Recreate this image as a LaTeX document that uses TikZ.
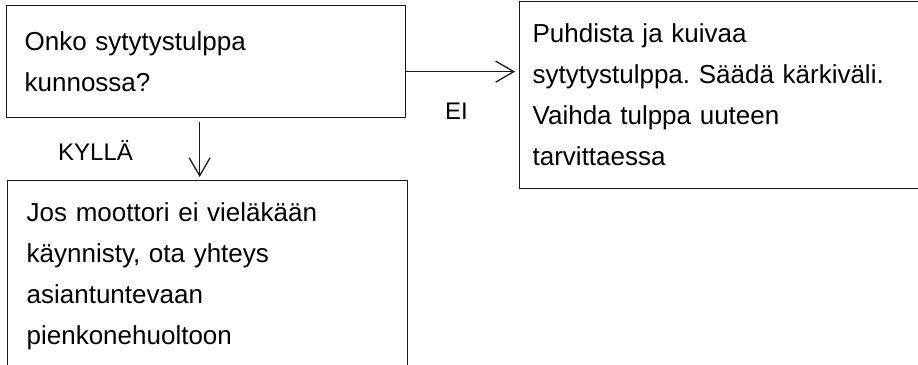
\documentclass[tikz,border=0pt]{standalone}
\usepackage{fontspec}
\setmainfont{Liberation Sans}
\usetikzlibrary{arrows.meta}
\frenchspacing
\begin{document}
\begin{tikzpicture}[x=1pt,y=-1pt,
  box/.style={draw=black!90,line width=1.3pt,rectangle,anchor=north west,
    align=left,inner ysep=0pt,
    font=\fontsize{26pt}{41pt}\selectfont},
  flow/.style={draw=black!90,line width=1.3pt,
    -{Straight Barb[length=18pt,width=21pt,line width=1.3pt]}},
  tag/.style={anchor=base west,inner sep=0pt,font=\fontsize{24pt}{28pt}\selectfont}]
  \useasboundingbox (0,0) rectangle (918,364);
  % question box
  \node[box,inner xsep=18pt,text width=363pt,minimum height=112pt] (q) at (6,5)
    {Onko sytytystulppa\\kunnossa?};
  % "no" branch: cleaning instructions
  \node[box,inner xsep=13pt,text width=380pt,minimum height=187pt] (fix) at (519,1)
    {Puhdista ja kuivaa\\sytytystulppa. Säädä kärkiväli.\\Vaihda tulppa uuteen\\tarvittaessa};
  % "yes" branch: contact service
  \node[box,inner xsep=19pt,text width=362pt,minimum height=192pt] (svc) at (7,180)
    {Jos moottori ei vieläkään\\käynnisty, ota yhteys\\asiantuntevaan\\pienkonehuoltoon};
  % connectors
  \coordinate (qe) at ([yshift=-10pt]q.east);
  \draw[flow,shorten >=4pt] (qe) -- (qe -| fix.west);
  \coordinate (qs) at ([xshift=-6.5pt]q.south);
  \draw[flow,shorten <=4pt,shorten >=3pt] (qs) -- (qs |- svc.north);
  % branch labels
  \node[tag] (no) at (445,119) {EI};
  \node[tag] (yes) at (58,160) {KYLLÄ};
\end{tikzpicture}
\end{document}
